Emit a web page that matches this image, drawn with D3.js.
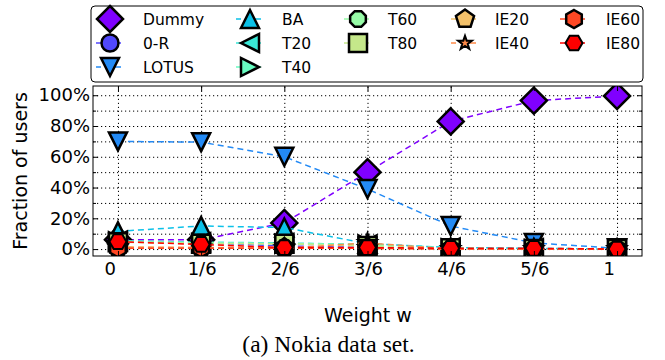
<!DOCTYPE html>
<html>
<head>
<meta charset="utf-8">
<script src="https://cdn.jsdelivr.net/npm/d3@7"></script>
<style>
  body { margin: 0; background: #fff; }
  svg text { font-family: "DejaVu Sans", sans-serif; fill: #000; }
  .grid line { stroke: #000; stroke-width: 1; stroke-dasharray: 1.2,2.8; }
  .grid path, .ticks path { display: none; }
  .ticks line { stroke: #000; stroke-width: 1; }
</style>
</head>
<body>
<div id="chart"></div>
<script>
// weights on the x axis
const weights = [0, 1/6, 2/6, 3/6, 4/6, 5/6, 1];
const weightLabels = ["0", "1/6", "2/6", "3/6", "4/6", "5/6", "1"];
const yTicks = [0, 20, 40, 60, 80, 100];
const yMinorTicks = [10, 30, 50, 70, 90];

// fraction of users (%) per method
const seriesNames = ["Dummy", "0-R", "LOTUS", "BA", "T20", "T40", "T60", "T80", "IE20", "IE40", "IE60", "IE80"];
const dummy = [6, 6, 17, 50, 83, 96.5, 99.5];
const zeroR = [5, 4, 2, 1, 0, 0, 0];
const lotus = [70, 69.5, 60, 39, 15, 4, 0.5];
const ba = [11.5, 15, 14, 3.5, 1, 0.5, 0];
const t20 = [5.5, 4.5, 4, 3, 1, 0.5, 0];
const t40 = [5, 4, 3.5, 3, 0.5, 0, 0];
const t60 = [5, 4, 3.5, 2.5, 0.5, 0, 0];
const t80 = [4.5, 3.5, 3.5, 2, 0.5, 0, 0];
const ie20 = [1.5, 1, 1, 0.5, 0, 0, 0];
const ie40 = [1, 1, 0.5, 4, 0, 0, 0];
const ie60 = [0.5, 0.5, 0.5, 0.5, 0, 0, 0];
const ie80 = [4.8, 3, 1, 1, 0.5, 0.5, 0];
const seriesValues = [dummy, zeroR, lotus, ba, t20, t40, t60, t80, ie20, ie40, ie60, ie80];

// matplotlib "rainbow" colormap
function rainbow(t) {
  const r = Math.min(1, Math.abs(2*t - 0.5));
  const g = Math.sin(Math.PI*t);
  const b = Math.cos(Math.PI*t/2);
  return d3.rgb(r*255, g*255, b*255).formatHex();
}

function poly(n, r, rot) {
  const pts = d3.range(n).map(function(i) {
    const a = rot + i*2*Math.PI/n;
    return [r*Math.sin(a), -r*Math.cos(a)];
  });
  return "M" + pts.join("L") + "Z";
}
function star(r) {
  const pts = d3.range(10).map(function(i) {
    const a = i*Math.PI/5, rr = i % 2 ? r*0.4 : r;
    return [rr*Math.sin(a), -rr*Math.cos(a)];
  });
  return "M" + pts.join("L") + "Z";
}
function circle(r) {
  return "M" + r + ",0A" + r + "," + r + " 0 1 1 " + (-r) + ",0A" + r + "," + r + " 0 1 1 " + r + ",0Z";
}

const markers = [
  poly(4, 13, 0),                    // D
  circle(8.5),                       // o
  "M-9,-9L9,-9L0,9Z",               // v
  "M0,-9L9,9L-9,9Z",                // ^
  "M-9,0L9,-9L9,9Z",                // <
  "M9,0L-9,-9L-9,9Z",               // >
  poly(8, 8.5, Math.PI/8),           // 8
  "M-9,-9H9V9H-9Z",                 // s
  poly(5, 9.5, 0),                   // p
  star(9),                           // *
  poly(6, 9, 0),                     // h
  poly(6, 8.5, Math.PI/6)            // H
];

function chart() {
  const w = 665, h = 360;
  const left = 93, right = 642, top = 86, bottom = 256;

  const xScale = d3.scaleLinear().domain([-0.05, 1.05]).range([left, right]);
  const yScale = d3.scaleLinear().domain([-4.5, 106]).range([bottom, top]);

  const svg = d3.select("#chart").append("svg")
    .attr("width", w).attr("height", h);

  svg.append("defs").append("clipPath").attr("id", "clip")
    .append("rect").attr("x", left).attr("y", top)
    .attr("width", right - left).attr("height", bottom - top);

  // grid
  svg.append("g").attr("class", "grid")
    .attr("transform", "translate(0," + bottom + ")")
    .call(d3.axisBottom(xScale).tickValues(weights).tickSize(-(bottom - top)).tickFormat(""));
  svg.append("g").attr("class", "grid")
    .attr("transform", "translate(" + left + ",0)")
    .call(d3.axisLeft(yScale).tickValues(yTicks.concat(yMinorTicks)).tickSize(-(right - left)).tickFormat(""));

  // series
  const line = d3.line()
    .x(function(d, i) { return xScale(weights[i]); })
    .y(function(d) { return yScale(d); });

  const plot = svg.append("g").attr("clip-path", "url(#clip)");
  seriesValues.forEach(function(vals, k) {
    const col = rainbow(k/(seriesValues.length - 1));
    const g = plot.append("g");
    g.append("path").datum(vals)
      .attr("d", line)
      .attr("fill", "none")
      .attr("stroke", col)
      .attr("stroke-width", 1.5)
      .attr("stroke-dasharray", "6,4");
    g.selectAll("path.mk").data(vals).enter()
      .append("path").attr("class", "mk")
      .attr("d", markers[k])
      .attr("transform", function(d, i) { return "translate(" + xScale(weights[i]) + "," + yScale(d) + ")"; })
      .attr("fill", col)
      .attr("stroke", "#000")
      .attr("stroke-width", k == 11 ? 2 : 2.5)
      .attr("stroke-linejoin", "miter");
  });

  // frame
  svg.append("rect")
    .attr("x", left).attr("y", top)
    .attr("width", right - left).attr("height", bottom - top)
    .attr("fill", "none").attr("stroke", "#000").attr("stroke-width", 1);

  // ticks
  const yAxis = svg.append("g").attr("class", "ticks")
    .attr("transform", "translate(" + left + ",0)")
    .call(d3.axisLeft(yScale).tickValues(yTicks).tickSize(-5).tickPadding(3)
      .tickFormat(function(d) { return d + "%"; }));
  yAxis.selectAll("text").attr("font-size", 18);
  svg.append("g").attr("class", "ticks")
    .attr("transform", "translate(" + left + ",0)")
    .call(d3.axisLeft(yScale).tickValues(yMinorTicks).tickSize(-3).tickFormat(""));
  svg.append("g").attr("class", "ticks")
    .attr("transform", "translate(" + right + ",0)")
    .call(d3.axisRight(yScale).tickValues(yTicks).tickSize(-5).tickFormat(""));
  svg.append("g").attr("class", "ticks")
    .attr("transform", "translate(" + right + ",0)")
    .call(d3.axisRight(yScale).tickValues(yMinorTicks).tickSize(-3).tickFormat(""));

  const xAxis = svg.append("g").attr("class", "ticks")
    .attr("transform", "translate(0," + bottom + ")")
    .call(d3.axisBottom(xScale).tickValues(weights).tickSize(-5).tickPadding(6)
      .tickFormat(function(d, i) { return weightLabels[i]; }));
  xAxis.selectAll("text")
    .attr("font-size", 18)
    .attr("text-anchor", "start")
    .attr("x", -14);
  svg.append("g").attr("class", "ticks")
    .attr("transform", "translate(0," + top + ")")
    .call(d3.axisTop(xScale).tickValues(weights).tickSize(-5).tickFormat(""));

  // axis labels
  svg.append("text")
    .attr("transform", "translate(27," + ((top + bottom)/2) + ") rotate(-90)")
    .attr("text-anchor", "middle")
    .attr("font-size", 19)
    .text("Fraction of users");
  svg.append("text")
    .attr("x", 368).attr("y", 322)
    .attr("text-anchor", "middle")
    .attr("font-size", 19)
    .text("Weight w");
  svg.append("text")
    .attr("x", 328.5).attr("y", 352)
    .attr("text-anchor", "middle")
    .attr("font-size", 23.5)
    .style("font-family", "'Liberation Serif', 'Times New Roman', serif")
    .text("(a) Nokia data set.");

  // legend
  const legend = svg.append("g");
  legend.append("rect")
    .attr("x", 91).attr("y", 6).attr("width", 552).attr("height", 76)
    .attr("rx", 4)
    .attr("fill", "#fff").attr("stroke", "#000").attr("stroke-width", 1);
  const colMarkX = [110, 250, 358, 465, 574];
  const colTextX = [143, 282, 388, 495, 606];
  const colStart = [0, 3, 6, 8, 10];
  const rowY = [19, 43, 67];
  seriesNames.forEach(function(name, k) {
    let c = 0;
    while (c < 4 && k >= colStart[c + 1]) c++;
    const r = k - colStart[c];
    const col = rainbow(k/(seriesNames.length - 1));
    const mx = colMarkX[c], my = rowY[r];
    legend.append("line")
      .attr("x1", mx - 14).attr("x2", mx + 14)
      .attr("y1", my).attr("y2", my)
      .attr("stroke", col).attr("stroke-width", 1.5)
      .attr("stroke-dasharray", "6,4").attr("stroke-dashoffset", 1);
    legend.append("path")
      .attr("d", markers[k])
      .attr("transform", "translate(" + mx + "," + my + ")" + (k == 9 ? " scale(0.8)" : ""))
      .attr("fill", col).attr("stroke", "#000")
      .attr("stroke-width", k == 11 ? 2 : 2.5);
    legend.append("text")
      .attr("x", colTextX[c]).attr("y", my)
      .attr("dy", "0.36em")
      .attr("font-size", 15.5)
      .text(name);
  });
}

chart();
</script>
</body>
</html>
